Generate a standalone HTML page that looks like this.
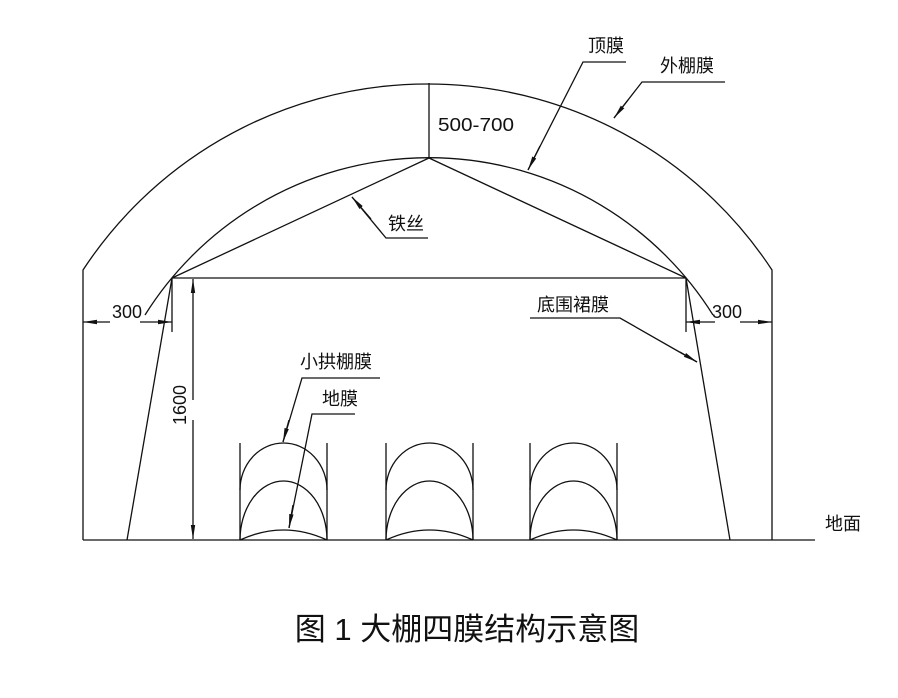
<!DOCTYPE html>
<html><head><meta charset="utf-8"><style>
html,body{margin:0;padding:0;background:#fff;width:898px;height:698px;overflow:hidden}
svg{display:block}
text{font-family:"Liberation Sans","Noto Sans CJK SC",sans-serif;fill:#111}
</style></head><body>
<svg width="898" height="698" viewBox="0 0 898 698" xmlns="http://www.w3.org/2000/svg">
<defs>
<marker id="a" markerWidth="14" markerHeight="6" refX="14" refY="3" orient="auto" markerUnits="userSpaceOnUse">
<path d="M0,0.8 L14,3 L0,5.2 Z" fill="#111"/></marker>
</defs>
<g stroke="#111" stroke-width="1.3" fill="none">
<path d="M83,540 L83,270 A412,412 0 0 1 772,270 L772,540"/>
<path d="M145,315 A335,335 0 0 1 713,315"/>
<path d="M172,278 L429,158 L686,278 L172,278"/>
<line x1="429" y1="83" x2="429" y2="158"/>
<line x1="172" y1="278" x2="127" y2="540"/>
<line x1="686" y1="278" x2="730" y2="540"/>
<line x1="172" y1="278" x2="172" y2="332"/>
<line x1="686" y1="278" x2="686" y2="332"/>
<line x1="83" y1="540" x2="815" y2="540"/>
<line x1="110" y1="322" x2="83" y2="322" marker-end="url(#a)"/>
<line x1="140" y1="322" x2="172" y2="322" marker-end="url(#a)"/>
<line x1="715" y1="322" x2="686" y2="322" marker-end="url(#a)"/>
<line x1="740" y1="322" x2="772" y2="322" marker-end="url(#a)"/>
<line x1="193" y1="400" x2="193" y2="279" marker-end="url(#a)"/>
<line x1="193" y1="420" x2="193" y2="539" marker-end="url(#a)"/>
<polyline points="428,238 386,238 352,197" />
<line x1="371" y1="219" x2="352" y2="197" marker-end="url(#a)"/>
<polyline points="626,62 583,62 528,170"/>
<line x1="540" y1="146" x2="528" y2="170" marker-end="url(#a)"/>
<polyline points="725,82 642,82 614,118"/>
<line x1="628" y1="100" x2="614" y2="118" marker-end="url(#a)"/>
<polyline points="530,318 620,318 697,362"/>
<line x1="680" y1="352" x2="697" y2="362" marker-end="url(#a)"/>
<polyline points="380,378 302,378 283,442"/>
<line x1="289" y1="420" x2="283" y2="442" marker-end="url(#a)"/>
<polyline points="355,414 312,414 289,528"/>
<line x1="293" y1="505" x2="289" y2="528" marker-end="url(#a)"/>
<g id="sa">
<line x1="240" y1="443" x2="240" y2="540"/>
<line x1="327" y1="443" x2="327" y2="540"/>
<path d="M240,490 A43.5,47 0 0 1 327,490"/>
<path d="M240,540 A43.5,59 0 0 1 327,540"/>
<path d="M240,540 Q283.5,520 327,540"/>
</g>
<use href="#sa" x="146"/>
<use href="#sa" x="290"/>
</g>
<g font-size="18">
<text x="438" y="131" textLength="76" lengthAdjust="spacingAndGlyphs">500-700</text>
<text x="112" y="318">300</text>
<text x="712" y="318">300</text>
<text transform="translate(186,425) rotate(-90)">1600</text>
<text x="588" y="52">顶膜</text>
<text x="660" y="72">外棚膜</text>
<text x="388" y="230">铁丝</text>
<text x="537" y="311">底围裙膜</text>
<text x="300" y="368">小拱棚膜</text>
<text x="322" y="405">地膜</text>
<text x="825" y="530">地面</text>
</g>
<text x="467" y="640" font-size="31" text-anchor="middle">图 1 大棚四膜结构示意图</text>
</svg>
</body></html>
